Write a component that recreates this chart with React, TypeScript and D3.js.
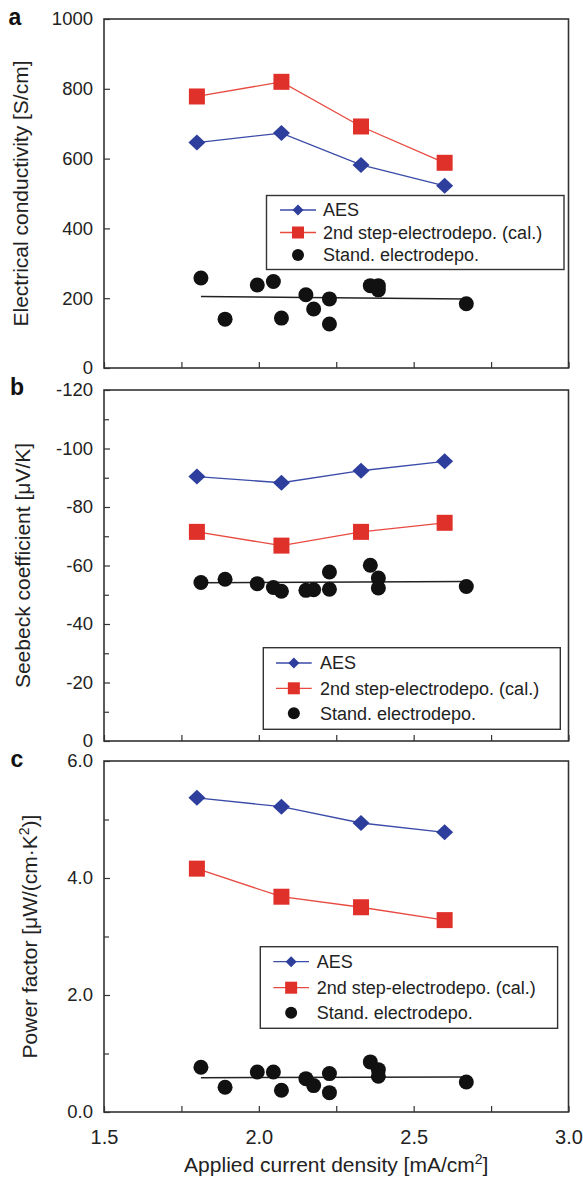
import React, { useEffect, useRef } from "react";
import * as d3 from "d3";

// x positions (applied current density, mA/cm2)
const currentX = [1.8, 2.073, 2.33, 2.6];
const standX = [1.813, 1.891, 1.995, 2.047, 2.073, 2.152, 2.177, 2.228, 2.228, 2.36, 2.386, 2.386, 2.67];
const trendX = [1.813, 2.67];

// (a) electrical conductivity [S/cm]
const condAES = [646, 673, 582, 522];
const condCal = [778, 820, 692, 588];
const condStand = [258, 140, 238, 248, 143, 210, 169, 198, 126, 236, 236, 224, 184];
const condTrend = [205, 198];

// (b) Seebeck coefficient [uV/K]
const seebAES = [-90.4, -88.3, -92.4, -95.6];
const seebCal = [-71.5, -66.8, -71.5, -74.6];
const seebStand = [-54.2, -55.3, -53.8, -52.5, -51.2, -51.5, -51.7, -57.8, -51.9, -60.1, -55.7, -52.3, -52.8];
const seebTrend = [-54.1, -54.5];

// (c) power factor [uW/(cm K2)]
const pfAES = [5.37, 5.22, 4.94, 4.78];
const pfCal = [4.16, 3.68, 3.5, 3.28];
const pfStand = [0.764, 0.422, 0.684, 0.684, 0.371, 0.57, 0.451, 0.656, 0.331, 0.856, 0.724, 0.61, 0.513];
const pfTrend = [0.585, 0.6];

const xTicks = [1.5, 1.75, 2.0, 2.25, 2.5, 2.75, 3.0];
const xTickLabels = [1.5, 2.0, 2.5, 3.0];
const legendLabels = ["AES", "2nd step-electrodepo. (cal.)", "Stand. electrodepo."];

const BLUE = "#2d3e9c";
const BLUE_LINE = "#3a4ba8";
const RED = "#e0302a";
const RED_LINE = "#e84a40";
const BLACK = "#111";
const FONT = "'Liberation Sans', Arial, Helvetica, sans-serif";

const panels = [
  {
    letter: "a", letterX: 15, letterY: 25,
    top: 19, bottom: 368,
    domain: [0, 1000], major: [0, 200, 400, 600, 800, 1000], minor: [] as number[],
    fmt: (d: number) => String(d),
    title: ["Electrical conductivity [S/cm]"], titleX: 21,
    aes: condAES, cal: condCal, stand: condStand, trend: condTrend,
    legend: { x: 266.5, y: 195.5, w: 297.5, h: 74, rows: [210, 232.5, 255], l0: 280, l1: 316, tx: 323 },
  },
  {
    letter: "b", letterX: 17, letterY: 395,
    top: 390, bottom: 741,
    domain: [0, -120], major: [0, -20, -40, -60, -80, -100, -120], minor: [-10, -30, -50, -70, -90, -110],
    fmt: (d: number) => String(d),
    title: ["Seebeck coefficient [μV/K]"], titleX: 23,
    aes: seebAES, cal: seebCal, stand: seebStand, trend: seebTrend,
    legend: { x: 263.3, y: 647.7, w: 297, h: 81.6, rows: [663, 688.3, 713.3], l0: 276, l1: 311.7, tx: 320 },
  },
  {
    letter: "c", letterX: 17, letterY: 767,
    top: 761, bottom: 1112,
    domain: [0, 6], major: [0, 2, 4, 6], minor: [1, 3, 5],
    fmt: (d: number) => d3.format(".1f")(d),
    title: ["Power factor [μW/(cm·K", "2", ")]"], titleX: 30,
    aes: pfAES, cal: pfCal, stand: pfStand, trend: pfTrend,
    legend: { x: 260.3, y: 946.7, w: 297.3, h: 81.6, rows: [961.7, 987.7, 1012.7], l0: 273.3, l1: 309, tx: 316.7 },
  },
];

const diamond = (cx: number, cy: number, w: number, h: number) =>
  `M${cx},${cy - h}L${cx + w},${cy}L${cx},${cy + h}L${cx - w},${cy}Z`;

const App = () => {
  const svgRef = useRef<SVGSVGElement>(null);

  useEffect(() => {
    const svg = d3.select(svgRef.current);
    svg.selectAll("*").remove();
    svg.attr("font-family", FONT);

    const x = d3.scaleLinear().domain([1.5, 3.0]).range([104, 568.5]);

    panels.forEach((p, pi) => {
      const y = d3.scaleLinear().domain(p.domain).range([p.bottom, p.top]);
      const g = svg.append("g");
      const last = pi === panels.length - 1;

      // y axis (inward ticks)
      const ya = g.append("g").attr("transform", `translate(${x(1.5)},0)`)
        .call(d3.axisLeft(y).tickValues(p.major).tickSize(-6).tickSizeOuter(0).tickPadding(11).tickFormat((d) => p.fmt(+d)));
      ya.select(".domain").remove();
      ya.selectAll("line").attr("stroke", "#333").attr("stroke-width", 1.2);
      ya.selectAll("text").attr("font-size", 18.5).attr("fill", "#222").attr("font-family", FONT);
      if (p.minor.length) {
        const ym = g.append("g").attr("transform", `translate(${x(1.5)},0)`)
          .call(d3.axisLeft(y).tickValues(p.minor).tickSize(-5).tickSizeOuter(0).tickFormat(() => ""));
        ym.select(".domain").remove();
        ym.selectAll("line").attr("stroke", "#333").attr("stroke-width", 1.2);
      }

      // x axis
      const xa = g.append("g").attr("transform", `translate(0,${p.bottom})`)
        .call(d3.axisBottom(x).tickValues(xTicks).tickSize(-6).tickSizeOuter(0).tickPadding(18)
          .tickFormat((d) => (last && xTickLabels.includes(+d) ? d3.format(".1f")(+d) : "")));
      xa.select(".domain").remove();
      xa.selectAll("line").attr("stroke", "#333").attr("stroke-width", 1.2);
      xa.selectAll("text").attr("font-size", 20).attr("fill", "#222").attr("font-family", FONT);

      // frame
      g.append("rect")
        .attr("x", x(1.5)).attr("y", p.top)
        .attr("width", x(3.0) - x(1.5)).attr("height", p.bottom - p.top)
        .attr("fill", "none").attr("stroke", "#333").attr("stroke-width", 1.6);

      // panel letter
      g.append("text").attr("x", p.letterX).attr("y", p.letterY)
        .attr("text-anchor", "middle").attr("font-weight", "bold").attr("font-size", 23).attr("fill", "#111")
        .text(p.letter);

      // y title
      const yt = g.append("text")
        .attr("transform", `translate(${p.titleX},${(p.top + p.bottom) / 2}) rotate(-90)`)
        .attr("text-anchor", "middle").attr("dy", "0.35em").attr("font-size", 21).attr("fill", "#222");
      yt.append("tspan").text(p.title[0]);
      if (p.title.length > 1) {
        yt.append("tspan").attr("font-size", 14).attr("dy", -8).text(p.title[1]);
        yt.append("tspan").attr("dy", 8).text(p.title[2]);
      }

      // trend line for standard electrodeposition
      const line = d3.line<[number, number]>().x((d) => x(d[0])).y((d) => y(d[1]));
      g.append("path")
        .attr("d", line(trendX.map((v, i) => [v, p.trend[i]] as [number, number])))
        .attr("fill", "none").attr("stroke", "#222").attr("stroke-width", 1.5);

      g.selectAll(".stand").data(p.stand).join("circle")
        .attr("class", "stand")
        .attr("cx", (d, i) => x(standX[i])).attr("cy", (d) => y(d))
        .attr("r", 7.5).attr("fill", BLACK);

      // calculated 2nd step
      g.append("path")
        .attr("d", line(currentX.map((v, i) => [v, p.cal[i]] as [number, number])))
        .attr("fill", "none").attr("stroke", RED_LINE).attr("stroke-width", 1.3);
      g.selectAll(".cal").data(p.cal).join("rect")
        .attr("class", "cal")
        .attr("x", (d, i) => x(currentX[i]) - 8).attr("y", (d) => y(d) - 8)
        .attr("width", 16).attr("height", 16).attr("fill", RED);

      // AES
      g.append("path")
        .attr("d", line(currentX.map((v, i) => [v, p.aes[i]] as [number, number])))
        .attr("fill", "none").attr("stroke", BLUE_LINE).attr("stroke-width", 1.3);
      g.selectAll(".aes").data(p.aes).join("path")
        .attr("class", "aes")
        .attr("d", (d, i) => diamond(x(currentX[i]), y(d), 8.5, 8))
        .attr("fill", BLUE);

      // legend
      const L = p.legend;
      const lg = g.append("g");
      lg.append("rect").attr("x", L.x).attr("y", L.y).attr("width", L.w).attr("height", L.h)
        .attr("fill", "#fff").attr("stroke", "#333").attr("stroke-width", 1.4);
      const mx = (L.l0 + L.l1) / 2;
      lg.append("line").attr("x1", L.l0).attr("x2", L.l1).attr("y1", L.rows[0]).attr("y2", L.rows[0])
        .attr("stroke", BLUE_LINE).attr("stroke-width", 1.3);
      lg.append("path").attr("d", diamond(mx, L.rows[0], 5.5, 5.5)).attr("fill", BLUE);
      lg.append("line").attr("x1", L.l0).attr("x2", L.l1).attr("y1", L.rows[1]).attr("y2", L.rows[1])
        .attr("stroke", RED_LINE).attr("stroke-width", 1.3);
      lg.append("rect").attr("x", mx - 6).attr("y", L.rows[1] - 6).attr("width", 12).attr("height", 12).attr("fill", RED);
      lg.append("circle").attr("cx", mx).attr("cy", L.rows[2]).attr("r", 6).attr("fill", BLACK);
      lg.selectAll(".lt").data(legendLabels).join("text")
        .attr("class", "lt")
        .attr("x", L.tx).attr("y", (d, i) => L.rows[i]).attr("dy", "0.35em")
        .attr("font-size", 18).attr("fill", "#222")
        .text((d) => d);
    });

    // x title
    const xt = svg.append("text")
      .attr("x", (x(1.5) + x(3.0)) / 2).attr("y", 1172)
      .attr("text-anchor", "middle").attr("font-size", 21).attr("fill", "#222");
    xt.append("tspan").text("Applied current density [mA/cm");
    xt.append("tspan").attr("font-size", 14).attr("dy", -8).text("2");
    xt.append("tspan").attr("dy", 8).text("]");
  }, []);

  return (
    <div style={{ position: "absolute", left: 0, top: 0 }}>
      <svg ref={svgRef} width={583} height={1178} style={{ display: "block", background: "#fff" }} />
    </div>
  );
};

export default App;
